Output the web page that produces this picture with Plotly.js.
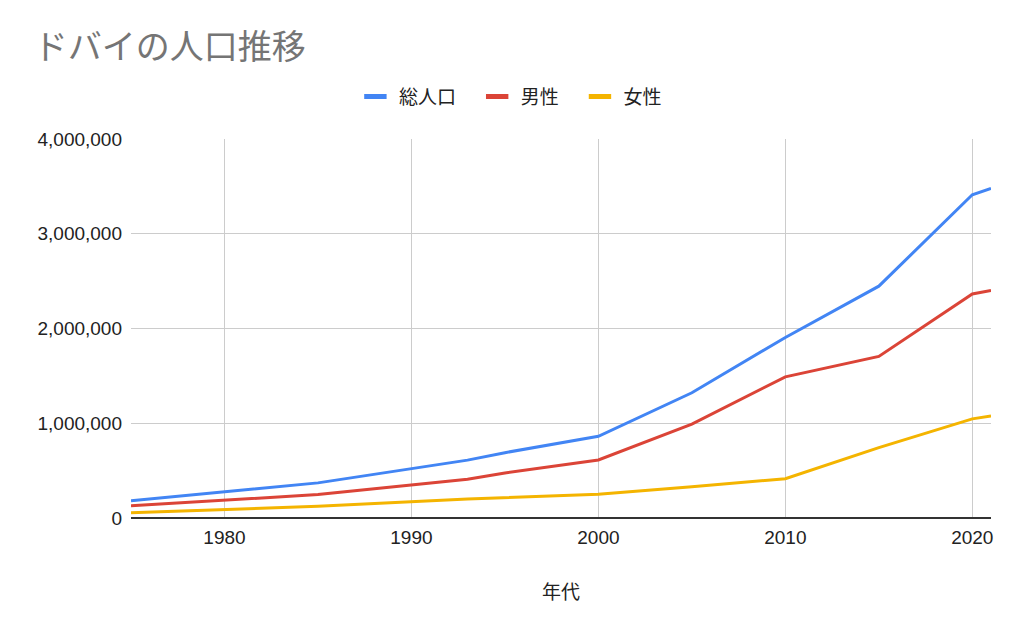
<!DOCTYPE html>
<html>
<head>
<meta charset="utf-8">
<script src="https://cdn.plot.ly/plotly-3.0.1.min.js"></script>
<style>html,body{margin:0;padding:0;background:#fff;}#chart{width:1024px;height:633px;}</style>
</head>
<body>
<div id="chart"></div>
<script>
const years = [1975, 1980, 1985, 1993, 1995, 2000, 2005, 2010, 2015, 2020, 2021];
const total = [183187, 276301, 370788, 610926, 689420, 862387, 1321453, 1905476, 2446675, 3411200, 3478300];
const male = [128000, 190000, 247000, 410000, 475000, 612000, 990000, 1490000, 1705000, 2365000, 2400000];
const female = [55000, 87000, 124000, 201000, 214000, 250000, 331000, 415000, 742000, 1046000, 1078000];
const seriesNames = ['総人口', '男性', '女性'];
const colors = ['#4285F4', '#DB4437', '#F4B400'];
const titleText = 'ドバイの人口推移';
const xTitle = '年代';

const jp = '"Noto Sans CJK JP", "Noto Sans", sans-serif';
const lat = 'Arial, "Liberation Sans", sans-serif';

const series = [total, male, female];
const traces = series.map((v, i) => ({
  x: years, y: v, name: seriesNames[i], type: 'scatter', mode: 'lines',
  line: {color: colors[i], width: 3}, showlegend: false
}));
// legend entries (short thick bars like the original)
const pad = '\u00a0\u00a0\u00a0';
series.forEach((v, i) => traces.push({
  x: [null], y: [null], name: seriesNames[i] + (i < series.length - 1 ? pad : ''),
  type: 'scatter', mode: 'markers',
  marker: {symbol: 'line-ew', size: 16, color: colors[i], line: {color: colors[i], width: 5}},
  showlegend: true
}));

const layout = {
  width: 1024, height: 633,
  margin: {l: 131, r: 33, t: 139, b: 115},
  paper_bgcolor: '#fff', plot_bgcolor: '#fff',
  title: {text: titleText, x: 0.033, xanchor: 'left', y: 0.925, yanchor: 'middle',
          font: {family: jp, size: 34, color: '#757575'}},
  showlegend: true,
  legend: {orientation: 'h', x: 0.44, xanchor: 'center', y: 1.112, yanchor: 'middle',
           font: {family: jp, size: 19, color: '#222'}, itemwidth: 37},
  xaxis: {range: [1975, 2021], tickvals: [1980, 1990, 2000, 2010, 2020],
          showgrid: true, gridcolor: '#cccccc', gridwidth: 1, zeroline: false,
          showline: false, ticks: '', tickfont: {family: lat, size: 19, color: '#222'},
          ticklabelstandoff: 6,
          title: {text: xTitle, font: {family: jp, size: 19, color: '#222'}, standoff: 38}},
  yaxis: {range: [0, 4000000], tickvals: [0, 1000000, 2000000, 3000000, 4000000],
          tickformat: ',d', showgrid: true, gridcolor: '#cccccc', gridwidth: 1,
          zeroline: true, zerolinecolor: '#333', zerolinewidth: 2, ticks: '',
          tickfont: {family: lat, size: 19, color: '#222'}, ticklabelstandoff: 8}
};

Plotly.newPlot('chart', traces, layout, {displayModeBar: false, staticPlot: true});
</script>
</body>
</html>
